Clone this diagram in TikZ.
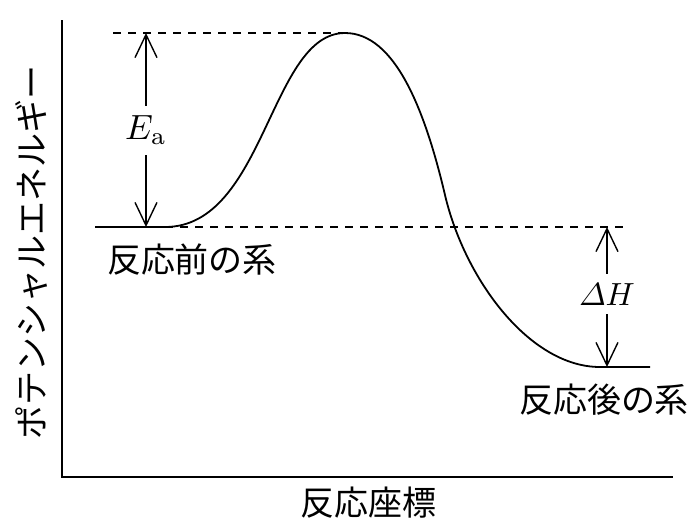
\documentclass[tikz,border=0pt]{standalone}
\usepackage{amsmath}
\usepackage{fontspec}
\newfontfamily\jpfont{Noto Sans CJK JP}
\usetikzlibrary{arrows.meta}

\begin{document}
\begin{tikzpicture}[x=0.5pt,y=-0.5pt,line width=0.9pt,
  >={Straight Barb[length=11.5pt,width=11pt,line width=0.7pt]},
  level/.style={line width=0.6pt,dash pattern=on 4pt off 3.5pt},
  jp label/.style={font=\jpfont\fontsize{17}{20}\selectfont,inner sep=0pt},
  gap label/.style={fill=white,inner sep=2.8pt,transform shape}]

  \useasboundingbox (0,0) rectangle (698,527);

  \coordinate (Origin) at (62,477);
  \coordinate (YTop) at (62,20);
  \coordinate (XEnd) at (673,477);
  \coordinate (Start) at (95,227);
  \coordinate (Before) at (165,227);
  \coordinate (Peak) at (345,33);
  \coordinate (Steep) at (445,195);
  \coordinate (After) at (600,367);
  \coordinate (End) at (650,367);
  \coordinate (TopDash) at (113,33);
  \coordinate (MidDash) at (627,227);
  \coordinate (EaTop) at (146,33);
  \coordinate (EaBot) at (146,227);
  \coordinate (DHTop) at (607,227);
  \coordinate (DHBot) at (607,367);

  \draw (YTop) -- (Origin) -- (XEnd);

  \draw (Start) -- (Before)
    .. controls (265,227) and (270,33) .. (Peak)
    .. controls (395,33) and (425,110) .. (Steep)
    .. controls (465,280) and (530,367) .. (After) -- (End);

  \draw[level] (TopDash) -- (Peak);
  \draw[level] (Before) -- (MidDash);

  \draw[<->] (EaTop) -- (EaBot)
    node[gap label,pos=0.5,scale=1.75] (Ea) {$E_{\mathrm{a}}$};
  \draw[<->] (DHTop) -- (DHBot)
    node[gap label,pos=0.48,scale=1.6] (DH) {$\varDelta H$};

  \node[jp label] (BeforeLabel) at (192,260) {反応前の系};
  \node[jp label] (AfterLabel) at (604,400) {反応後の系};
  \node[jp label] (XLabel) at (368,503) {反応座標};
  \node[jp label,rotate=90] (YLabel) at (32,252) {ポテンシャルエネルギー};
\end{tikzpicture}
\end{document}
